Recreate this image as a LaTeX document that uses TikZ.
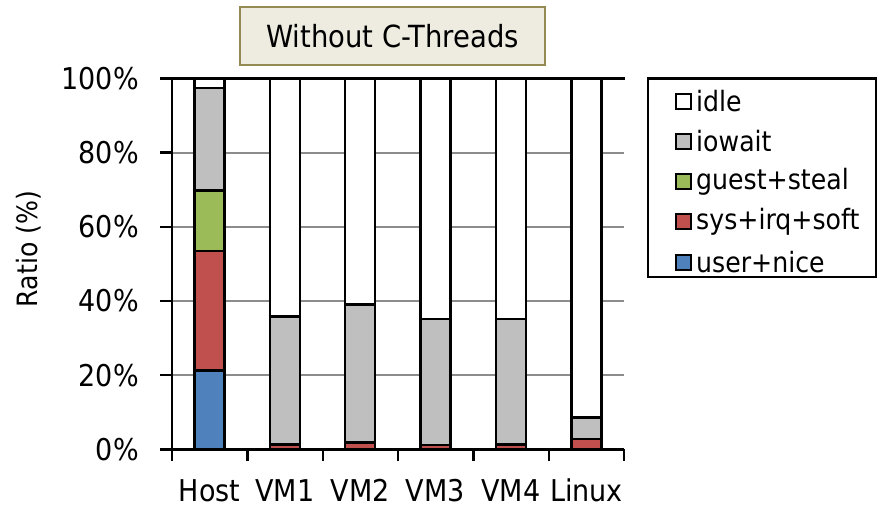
\documentclass[tikz,border=0pt]{standalone}
\usepackage{fontspec}
\setmainfont{DejaVu Sans}[FakeStretch=0.9]
\definecolor{cuser}{HTML}{4F81BD}
\definecolor{csys}{HTML}{C0504D}
\definecolor{cguest}{HTML}{9BBB59}
\definecolor{cio}{HTML}{BFBFBF}
\definecolor{titlefill}{HTML}{EEECE1}
\definecolor{titleedge}{HTML}{948A54}
\definecolor{gridgray}{HTML}{8C8C8C}
% one stacked segment: centre x, lower %, upper %, colour
\newcommand\stackseg[4]{%
  \draw[segment, fill=#4] ({#1-15},{449.3-3.708*(#2)}) rectangle ({#1+15},{449.3-3.708*(#3)});}
\begin{document}
\begin{tikzpicture}[x=1pt,y=-1pt,
  segment/.style={draw=black, line width=2.4pt},
  gridline/.style={draw=gridgray, line width=2pt},
  axisline/.style={draw=black, line width=2.8pt},
  ticklabel/.style={font=\fontsize{30}{33}\selectfont, inner sep=0pt},
  catlabel/.style={font=\fontsize{30}{33}\selectfont, inner sep=0pt, anchor=base},
  legtext/.style={font=\fontsize{28}{31}\selectfont, inner sep=0pt, anchor=west},
  legswatch/.style={draw=black, line width=2pt, minimum size=15pt, inner sep=0pt}]
\useasboundingbox (0,0) rectangle (877,508);

% grid lines
\foreach \p in {20,40,60,80}
  \draw[gridline] (172,{449.3-3.708*\p}) -- (624,{449.3-3.708*\p});
\draw[axisline, line width=2.4pt] (160,78.5) -- (625,78.5);

% stacked bars
\stackseg{209.5}{0}{21.2}{cuser}
\stackseg{209.5}{21.2}{53.4}{csys}
\stackseg{209.5}{53.4}{69.8}{cguest}
\stackseg{209.5}{69.8}{97.5}{cio}
\stackseg{209.5}{97.5}{100}{white}

\stackseg{284.8}{0}{1.3}{csys}
\stackseg{284.8}{1.3}{35.8}{cio}
\stackseg{284.8}{35.8}{100}{white}

\stackseg{360.1}{0}{1.8}{csys}
\stackseg{360.1}{1.8}{39.1}{cio}
\stackseg{360.1}{39.1}{100}{white}

\stackseg{435.4}{0}{1.2}{csys}
\stackseg{435.4}{1.2}{35.1}{cio}
\stackseg{435.4}{35.1}{100}{white}

\stackseg{510.7}{0}{1.3}{csys}
\stackseg{510.7}{1.3}{35.1}{cio}
\stackseg{510.7}{35.1}{100}{white}

\stackseg{586.5}{0}{2.7}{csys}
\stackseg{586.5}{2.7}{8.6}{cio}
\stackseg{586.5}{8.6}{100}{white}

% axes and ticks
\draw[axisline] (172,78.5) -- (172,449.3);
\draw[axisline] (172,449.3) -- (624,449.3);
\foreach \p in {0,20,40,60,80,100}
  \draw[axisline, line width=2.4pt] (160,{449.3-3.708*\p}) -- (172,{449.3-3.708*\p});
\foreach \x in {172,247.3,322.7,398,473.3,548.7,624}
  \draw[axisline, line width=2.4pt] (\x,449.3) -- (\x,461);

% y tick labels
\foreach \p/\n in {0/y0,20/y20,40/y40,60/y60,80/y80,100/y100}
  \node[ticklabel, anchor=east] (\n) at (139,{449.3-3.708*\p}) {\p\%};
\node[ticklabel, rotate=90, font=\fontsize{28}{31}\selectfont] (ylab) at (29,249) {Ratio (\%)};

% category labels
\node[catlabel] (host) at (209.5,501) {Host};
\node[catlabel] (vm1) at (284.8,501) {VM1};
\node[catlabel] (vm2) at (360.1,501) {VM2};
\node[catlabel] (vm3) at (435.4,501) {VM3};
\node[catlabel] (vm4) at (510.7,501) {VM4};
\node[catlabel] (linux) at (586.5,501) {Linux};

% title box
\node[draw=titleedge, fill=titlefill, line width=2.4pt, minimum width=305pt, minimum height=58pt,
      inner sep=0pt, font=\fontsize{30.5}{33}\selectfont] (title) at (392.5,36) {Without C-Threads};

% legend
\draw[black, line width=2.4pt] (648,78.5) rectangle (876,277);
\foreach \y/\c/\t/\n in {101.5/white/idle/lidle, 141.5/cio/iowait/lio, 181.5/cguest/guest+steal/lguest,
                         221.5/csys/sys+irq+soft/lsys, 262/cuser/user+nice/luser} {
  \node[legswatch, fill=\c] (\n sw) at (683,\y) {};
  \node[legtext] (\n) at (696,\y) {\t};
}
\end{tikzpicture}
\end{document}
